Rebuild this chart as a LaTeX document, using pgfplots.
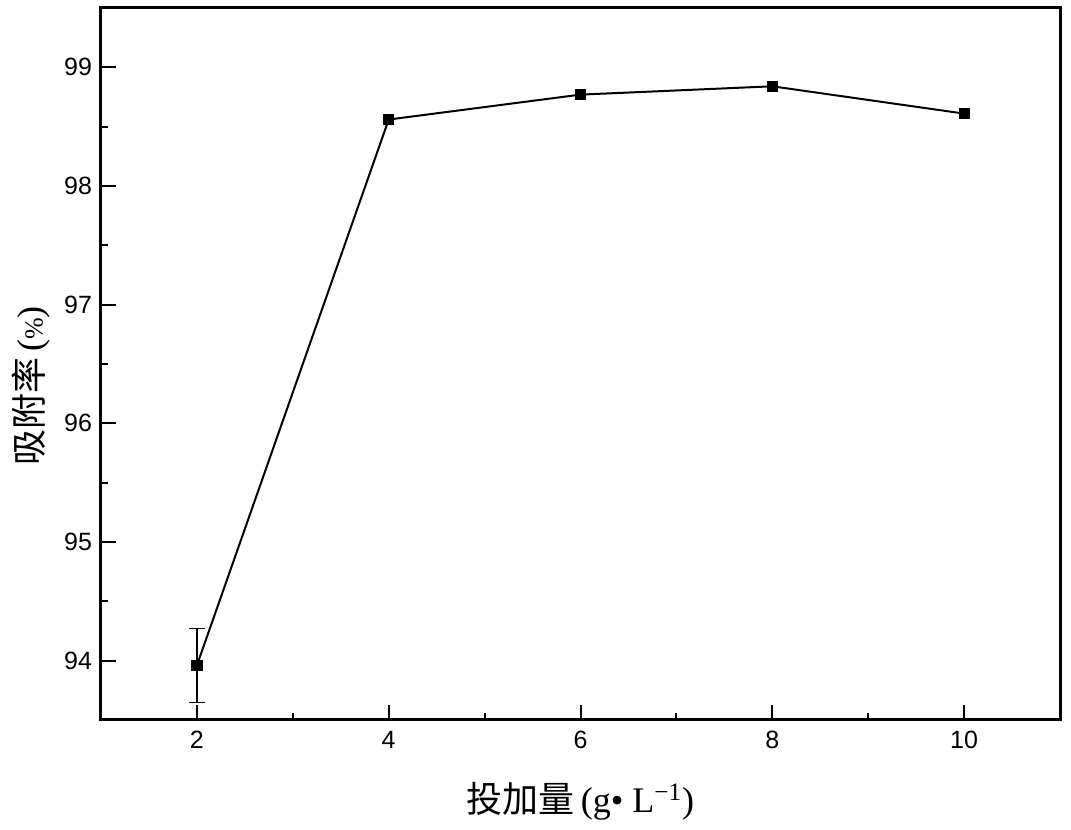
\documentclass[border=0pt]{standalone}
\usepackage{fontspec}
\setmainfont{Liberation Serif}
\setsansfont{Liberation Sans}
\newfontfamily\cjk{Noto Sans CJK SC}
\usepackage{pgfplots}
\pgfplotsset{compat=1.18}
\begin{document}
\begin{tikzpicture}
\begin{axis}[
  scale only axis,
  width=479.5pt, height=356pt,
  xmin=1, xmax=11, ymin=93.5, ymax=99.5,
  xtick={2,4,6,8,10}, minor xtick={3,5,7,9},
  ytick={94,95,96,97,98,99}, minor ytick={93.5,94.5,95.5,96.5,97.5,98.5,99.5},
  tick pos=left,
  tick align=inside,
  major tick length=7.5pt, minor tick length=3.5pt,
  every tick/.style={black, line width=1pt},
  axis line style={line width=1.5pt},
  /pgf/number format/assume math mode=true,
  tick label style={font=\sffamily\fontsize{12.5}{14}\selectfont},
  yticklabel style={xshift=-1pt},
  xticklabel style={yshift=-2pt},
  xlabel={{\cjk 投加量}\,(g• L\textsuperscript{−1})},
  ylabel={{\cjk 吸附率}\,({\fontsize{13}{15}\selectfont\%})},
  label style={font=\fontsize{18}{20}\selectfont},
  xlabel style={yshift=-10pt},
  ylabel style={yshift=0pt, xshift=-11pt},
]
\addplot[black, line width=1pt, mark=square*, mark size=2.3pt]
coordinates {
  (2,93.96)
  (4,98.56)
  (6,98.77)
  (8,98.84)
  (10,98.61)
};
\addplot[black, draw=none, mark=none, forget plot,
  error bars/.cd, y dir=both, y explicit, error mark options={rotate=90, mark size=4pt, line width=0.6pt},
  error bar style={line width=0.6pt}]
coordinates {
  (2,93.96) +- (0,0.31)
};
\end{axis}
\path (current axis.south west) ++(-50.5pt,-55pt) coordinate (bl);
\path (current axis.north east) ++(5.5pt,4pt) coordinate (tr);
\useasboundingbox (bl) rectangle (tr);
\end{tikzpicture}
\end{document}
